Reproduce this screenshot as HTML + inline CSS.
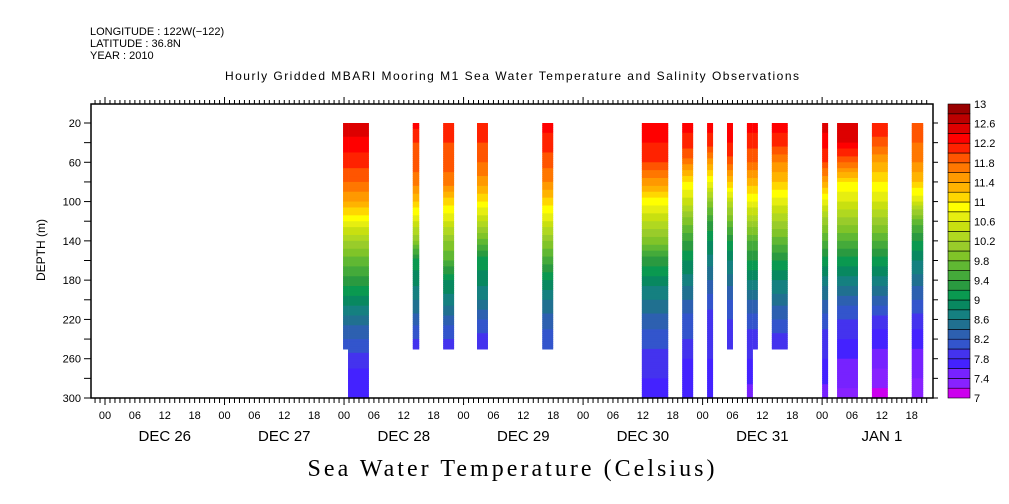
<!DOCTYPE html>
<html><head><meta charset="utf-8"><style>
html,body{margin:0;padding:0;background:#fff;}
svg{display:block;font-family:"Liberation Sans",sans-serif;}
</style></head><body>
<svg id="chart" width="1009" height="504" viewBox="0 0 1009 504" xmlns="http://www.w3.org/2000/svg">
<text x="90" y="35" font-size="11">LONGITUDE : 122W(−122)</text>
<text x="90" y="47" font-size="11">LATITUDE : 36.8N</text>
<text x="90" y="59" font-size="11">YEAR : 2010</text>
<text x="512" y="80" font-size="12" text-anchor="middle" textLength="574">Hourly Gridded MBARI Mooring M1 Sea Water Temperature and Salinity Observations</text>
<text x="0" y="0" font-size="12" text-anchor="middle" transform="translate(45,250) rotate(-90)">DEPTH (m)</text>
<text x="511" y="476" font-size="24" font-family="Liberation Serif, serif" text-anchor="middle" textLength="407">Sea Water Temperature (Celsius)</text>
<g id="marks"></g>
<g id="axes"></g>
<g id="cbar"></g>
</svg>
<script>
// data
const depthLevels=[20,40,60,80,100,120,140,160,180,200,220,240,260,280,300];
const segStart=[47.8,48.8,61.8,67.9,74.7,87.8,107.8,115.9,120.9,124.9,128.9,130.1,133.9,144.0,147.0,154.0,162.0];
const segEnd=[48.8,53.0,63.1,70.1,76.9,90.0,113.1,118.1,122.1,126.1,130.1,131.1,137.1,145.2,151.2,157.2,164.3];
const segBottom=[250,300,250,250,250,250,300,300,300,250,300,250,250,300,300,300,300];
const segProfile=[0,0,1,2,3,4,5,6,7,8,9,9,10,11,12,13,14];
const profiles=[
[12.6,12.3,12.1,11.8,11.4,10.8,10.2,9.7,9.3,8.9,8.5,8.2,7.9,7.7,7.6],
[12.3,12.0,11.9,11.7,11.2,10.6,10.0,9.1,8.9,8.6,8.3,8.0,7.9,7.8,7.7],
[12.1,12.0,11.9,11.7,11.1,10.6,10.0,9.6,9.0,8.7,8.3,8.0,7.9,7.8,7.7],
[12.1,12.0,11.8,11.5,11.0,10.4,9.7,9.1,8.9,8.6,8.2,7.9,7.8,7.7,7.6],
[12.3,12.1,11.9,11.6,11.1,10.6,10.0,9.5,9.0,8.6,8.3,8.1,7.9,7.8,7.7],
[12.3,12.2,12.0,11.5,10.9,10.4,9.9,9.3,8.9,8.6,8.3,8.1,7.9,7.8,7.7],
[12.3,12.1,11.7,11.0,10.5,9.9,9.4,9.0,8.7,8.4,8.1,8.0,7.8,7.7,7.6],
[12.3,12.1,11.5,10.8,10.0,9.4,9.0,8.7,8.4,8.1,7.9,7.8,7.8,7.7,7.7],
[12.3,12.2,11.9,11.2,10.4,9.8,9.2,8.8,8.5,8.2,8.0,7.9,7.8,7.7,7.6],
[12.3,12.1,11.8,11.3,10.8,10.2,9.6,9.2,8.8,8.4,8.1,7.9,7.8,7.7,7.4],
[12.3,12.1,11.6,11.2,10.7,10.2,9.7,9.2,8.8,8.5,8.2,7.9,7.8,7.7,7.6],
[12.5,12.3,12.0,11.4,10.7,10.1,9.6,9.1,8.7,8.4,8.1,7.9,7.8,7.7,7.4],
[12.6,12.4,11.8,11.0,10.6,10.1,9.6,9.1,8.7,8.3,8.0,7.8,7.6,7.5,7.3],
[12.2,11.9,11.4,11.0,10.6,10.1,9.6,9.1,8.7,8.3,7.9,7.7,7.5,7.3,7.1],
[11.9,11.8,11.6,11.2,10.6,9.7,9.2,8.8,8.5,8.2,7.9,7.7,7.5,7.4,7.3]
];
const colorLevels=[7,7.2,7.4,7.6,7.8,8,8.2,8.4,8.6,8.8,9,9.2,9.4,9.6,9.8,10,10.2,10.4,10.6,10.8,11,11.2,11.4,11.6,11.8,12,12.2,12.4,12.6,12.8];
const colors=["#cc00ee","#8822ff","#7722ff","#4422ff","#4433ee","#3355cc","#2d60b0","#207090","#158080","#088860","#0a9950","#2a9a40","#44aa3a","#60b833","#80c428","#99cc2a","#b0d820","#c8e010","#e6ee10","#ffff00","#ffd700","#ffb300","#ff9900","#ff7700","#ff5500","#ff2200","#ff0000","#dd0000","#bb0000","#990000"];
const depthTicks=[20,60,100,140,180,220,260,300];
const hourLabels=["00","06","12","18"];
const dayLabels=["DEC 26","DEC 27","DEC 28","DEC 29","DEC 30","DEC 31","JAN  1"];
const cbarLabels=["7","7.4","7.8","8.2","8.6","9","9.4","9.8","10.2","10.6","11","11.4","11.8","12.2","12.6","13"];

const NS="http://www.w3.org/2000/svg";
const L=91,R=933,T=104,B=398;
const xS=h=>105+h*4.98;
const yS=d=>398-(300-d)*(275/280);
function mk(tag,attrs,parent){const e=document.createElementNS(NS,tag);for(const k in attrs)e.setAttribute(k,attrs[k]);parent.appendChild(e);return e;}
function colorFor(t){let i=Math.floor((t-7)/0.2+1e-6);i=Math.max(0,Math.min(colors.length-1,i));return colors[i];}
function interp(p,d){if(d<=20)return p[0];for(let i=0;i<depthLevels.length-1;i++){if(d<=depthLevels[i+1]){const f=(d-depthLevels[i])/(depthLevels[i+1]-depthLevels[i]);return p[i]+f*(p[i+1]-p[i]);}}return p[p.length-1];}

const marks=document.getElementById('marks');
for(let s=0;s<segStart.length;s++){
  const g=mk('g',{},marks);
  
  
  const p=profiles[segProfile[s]];
  const x0=xS(segStart[s]),x1=xS(segEnd[s]);
  for(let d=20;d<segBottom[s];d+=2){
    const r=mk('rect',{x:x0,y:yS(d),width:x1-x0,height:yS(d+2)-yS(d)+0.6,fill:colorFor(interp(p,d+1))},g);
    
    
  }
}

const ax=document.getElementById('axes');
const frame=mk('rect',{x:L,y:T,width:R-L,height:B-T,fill:'none',stroke:'#000','stroke-width':1.5},ax);


for(let d=20;d<=300;d+=20){
  mk('line',{x1:L-7,x2:L,y1:yS(d),y2:yS(d),stroke:'#000'},ax);
  mk('line',{x1:R,x2:R+5,y1:yS(d),y2:yS(d),stroke:'#000'},ax);
}
depthTicks.forEach(d=>{
  const t=mk('text',{x:L-10,y:yS(d)+4,'font-size':11,'text-anchor':'end'},ax);t.textContent=d;
  
  
});
for(let h=-2;h<=165;h++){
  const x=xS(h);if(x<L||x>R)continue;
  const major=(h%24===0);
  mk('line',{x1:x,x2:x,y1:B,y2:B+(major?7:5),stroke:'#000'},ax);
  mk('line',{x1:x,x2:x,y1:T,y2:T-(major?7:4),stroke:'#000'},ax);
  if(h%6===0){
    const t=mk('text',{x:x,y:B+21,'font-size':11,'text-anchor':'middle'},ax);t.textContent=hourLabels[(h%24)/6];
    
    
  }
}
dayLabels.forEach((lab,i)=>{
  const t=mk('text',{x:xS(i*24+12),y:B+43,'font-size':15,'text-anchor':'middle','xml:space':'preserve'},ax);t.textContent=lab;
  
  
});

const cb=document.getElementById('cbar');


const cT=104,cB=398,cX=948,cW=22,bh=(cB-cT)/colors.length;
colors.forEach((c,i)=>{
  const r=mk('rect',{x:cX,y:cB-(i+1)*bh,width:cW,height:bh,fill:c,stroke:'#000','stroke-width':0.6},cb);
  
  
});
cbarLabels.forEach((lab,i)=>{
  const t=mk('text',{x:cX+26,y:cB-i*2*bh+4,'font-size':11},cb);t.textContent=lab;
  
  
});
</script>
</body></html>
